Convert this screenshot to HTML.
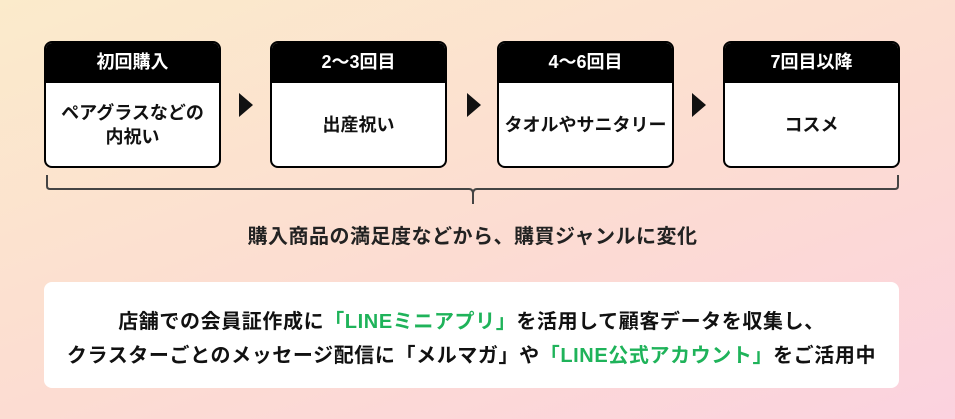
<!DOCTYPE html>
<html><head><meta charset="utf-8"><style>
*{margin:0;padding:0;box-sizing:border-box}
body{width:955px;height:419px;overflow:hidden;position:relative;font-family:"Liberation Sans","Noto Sans CJK JP",sans-serif;font-weight:bold;
background:linear-gradient(160deg,#fbebcb 0%,#fcdcd2 55%,#fbd2df 100%);}
.box{position:absolute;top:41px;height:127px;width:177px;border:2.5px solid #000;border-radius:8px;background:#fff;overflow:hidden}
.box .h{height:40px;background:#000;color:#fff;font-size:18px;text-align:center;line-height:38px}
.box .b{height:84px;display:flex;align-items:center;justify-content:center;text-align:center;font-size:18px;line-height:24px;color:#111;white-space:nowrap}
.tri{position:absolute;top:93px;width:0;height:0;border-top:12px solid transparent;border-bottom:12px solid transparent;border-left:14px solid #111}
.cap{position:absolute;top:220px;left:0;width:945px;text-align:center;font-size:20px;color:#222;letter-spacing:0.5px}
.panel{position:absolute;left:44px;top:282px;width:855px;height:106px;background:#fff;border-radius:8px;text-align:center;font-size:20px;color:#111;padding-top:23px;line-height:34px;letter-spacing:0.6px;white-space:nowrap}
.g{color:#1fb35a}
</style></head><body>
<div class="box" style="left:44px"><div class="h">初回購入</div><div class="b">ペアグラスなどの<br>内祝い</div></div>
<div class="tri" style="left:239px"></div>
<div class="box" style="left:270px"><div class="h">2〜3回目</div><div class="b">出産祝い</div></div>
<div class="tri" style="left:467px"></div>
<div class="box" style="left:497px"><div class="h">4〜6回目</div><div class="b">タオルやサニタリー</div></div>
<div class="tri" style="left:692px"></div>
<div class="box" style="left:723px"><div class="h">7回目以降</div><div class="b">コスメ</div></div>
<svg style="position:absolute;left:0;top:0" width="955" height="419">
<path d="M47 175 V186 Q47 189 50 189 H469 Q473 189 473 194 V204 M473 194 Q473 189 477 189 H895 Q898 189 898 186 V175" fill="none" stroke="#444" stroke-width="2"/>
</svg>
<div class="cap">購入商品の満足度などから、購買ジャンルに変化</div>
<div class="panel">店舗での会員証作成に<span class="g">「LINEミニアプリ」</span>を活用して顧客データを収集し、<br>クラスターごとのメッセージ配信に「メルマガ」や<span class="g">「LINE公式アカウント」</span>をご活用中</div>
</body></html>
